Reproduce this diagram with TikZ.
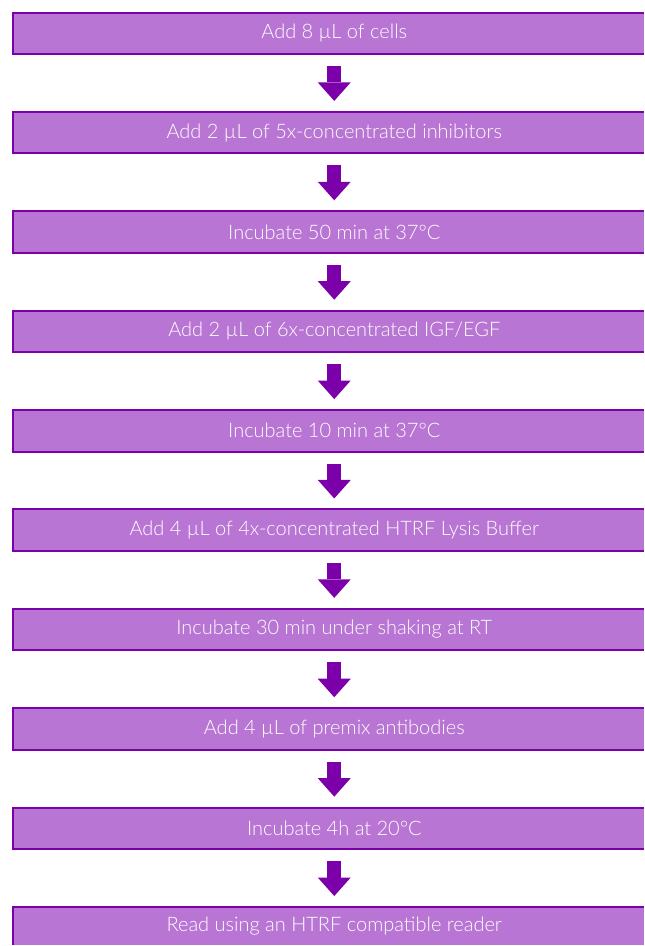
\documentclass[tikz,border=0pt]{standalone}
\usepackage{fontspec}
\setmainfont{Lato}[UprightFont=* Light]
\usetikzlibrary{positioning,arrows.meta,backgrounds}
\definecolor{stepfill}{HTML}{B875D3}
\definecolor{stepline}{HTML}{7B00A9}

\begin{document}
\begin{tikzpicture}[x=0.75pt,y=0.75pt,node distance=43.5pt,
	stepbox/.style={minimum height=31.1pt,inner sep=0pt,outer sep=0pt,text=white,font=\fontsize{15}{18}\selectfont},
	boxline/.style={draw=stepline,line width=1.5pt},
	flow/.style={draw=stepline,line width=10.5pt,-{Triangle[length=13.9pt,width=24.75pt,line width=0pt]},shorten <=9pt,shorten >=8.25pt}]
	\path (0,0) rectangle (644,-946);
	\node[stepbox] (cells) at (334.5,-33.25) {Add 8 µL of cells};
	\node[stepbox,below=of cells] (inhib) {Add 2 µL of 5x-concentrated inhibitors};
	\node[stepbox,below=of inhib] (inc1) {Incubate 50 min at 37°C};
	\node[stepbox,below=of inc1] (igf) {Add 2 µL of 6x-concentrated IGF/EGF};
	\node[stepbox,below=of igf] (inc2) {Incubate 10 min at 37°C};
	\node[stepbox,below=of inc2] (lysis) {Add 4 µL of 4x-concentrated HTRF Lysis Buffer};
	\node[stepbox,below=of lysis] (inc3) {Incubate 30 min under shaking at RT};
	\node[stepbox,below=of inc3] (abs) {Add 4 µL of premix antibodies};
	\node[stepbox,below=of abs] (inc4) {Incubate 4h at 20°C};
	\node[stepbox,below=of inc4,minimum height=28.5pt] (read) {Read using an HTRF compatible reader};
	% boxes run off the right edge (and the last one off the bottom)
	\begin{pgfonlayer}{background}
		\foreach \s in {cells,inhib,inc1,igf,inc2,lysis,inc3,abs,inc4} {
			\fill[stepfill] (\s.north -| 13,0) rectangle (\s.south -| 644,0);
			\draw[boxline] (\s.north -| 644,0) -- (\s.north -| 13,0) -- (\s.south -| 13,0) -- (\s.south -| 644,0);
		}
		\fill[stepfill] (read.north -| 13,0) rectangle (read.south -| 644,0);
		\draw[boxline] (read.north -| 644,0) -- (read.north -| 13,0) -- (read.south -| 13,0);
	\end{pgfonlayer}
	\foreach \a/\b in {cells/inhib,inhib/inc1,inc1/igf,igf/inc2,inc2/lysis,lysis/inc3,inc3/abs,abs/inc4,inc4/read}
		\draw[flow] (\a) -- (\b);
\end{tikzpicture}
\end{document}
